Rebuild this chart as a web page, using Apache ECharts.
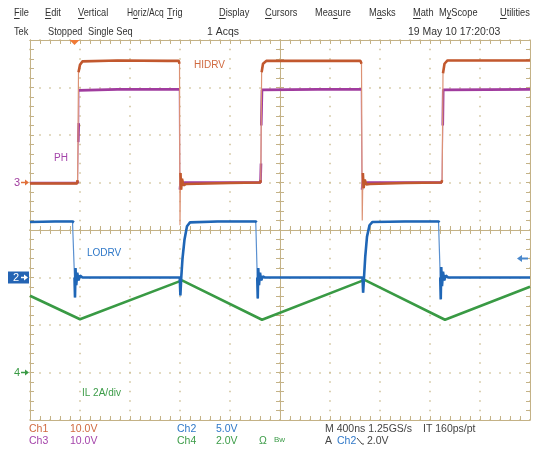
<!DOCTYPE html>
<html><head><meta charset="utf-8">
<script src="https://cdn.jsdelivr.net/npm/echarts@6/dist/echarts.min.js"></script>
<style>html,body{margin:0;padding:0;background:#fff}#main{width:533px;height:452px}</style>
</head><body><div id="main"></div>
<script>
// ---- acquisition settings ----
const timeMin = 0, timeMax = 4000, timePerDiv = 400;      // ns (M 400ns)
const halfDivX = 5, halfDivY = 4;
const ch1Scale = 10, ch1Ground = 1;    // V/div, ground offset in divisions
const ch2Scale = 5,  ch2Ground = -1;
const ch3Scale = 10, ch3Ground = 1;
const ch4Scale = 2,  ch4Ground = -3;
const triggerTime = 356, triggerLevel = 2.0;

// ---- traces: [time ns, value] ----
const hidrv = [[0,-0.2],[376,-0.2],[381,0.5],[388,23.2],[400,24.8],[420,25.5],[700,25.7],[1100,25.6],[1190,25.6],[1196,25.0],[1200,-9.0],[1204,2.0],[1209,-1.5],[1216,0.8],[1228,-0.6],[1250,-0.3],[1600,-0.1],[1842,0.0],[1846,0.5],[1853,23.2],[1864,25.0],[1890,25.6],[2300,25.6],[2644,25.6],[2652,25.0],[2658,-8.0],[2663,2.0],[2669,-1.2],[2678,0.6],[2690,-0.4],[2720,-0.3],[3000,-0.1],[3292,0.0],[3297,0.5],[3304,23.0],[3316,25.0],[3340,25.7],[4000,25.7]];
const ph = [[0,-0.1],[380,-0.1],[384,0.3],[386,8.5],[390,12.5],[392,19.4],[700,19.6],[1194,19.6],[1199,-1.5],[1206,0.4],[1218,-0.3],[1240,0.0],[1844,0.0],[1848,4.0],[1850,12.0],[1856,19.5],[2300,19.6],[2650,19.6],[2656,-1.5],[2664,0.4],[2676,-0.2],[2700,0.0],[3296,0.0],[3302,12.0],[3306,19.5],[4000,19.6]];
const lodrv = [[0,5.85],[200,5.9],[340,5.9],[352,5.8],[356,0.0],[360,-2.1],[364,1.0],[370,-0.8],[378,0.5],[388,-0.3],[400,0.2],[420,0.0],[1198,0.0],[1203,-1.9],[1210,0.0],[1220,2.0],[1236,4.0],[1256,5.4],[1280,5.8],[1500,5.9],[1806,5.9],[1813,5.8],[1818,0.0],[1822,-2.2],[1826,1.0],[1832,-0.8],[1840,0.5],[1850,-0.3],[1862,0.1],[1880,0.0],[2660,0.0],[2665,-1.6],[2672,0.0],[2682,2.2],[2696,4.3],[2716,5.5],[2740,5.85],[3000,5.9],[3268,5.9],[3276,5.8],[3282,0.0],[3286,-2.3],[3290,1.1],[3296,-0.9],[3304,0.6],[3314,-0.3],[3326,0.2],[3345,0.0],[4000,0.0]];
const il = [[0,3.23],[400,2.24],[1216,3.88],[1856,2.22],[2676,3.9],[3320,2.22],[4000,3.61]];

// ---- texts ----
const menuItems = ['File','Edit','Vertical','Horiz/Acq','Trig','Display','Cursors','Measure','Masks','Math','MyScope','Utilities'];
const menuKey   = [0,0,0,1,0,0,0,3,1,0,1,0];
const statusItems = ['Tek','Stopped','Single Seq','1 Acqs','19 May 10 17:20:03'];
const traceLabels = ['HIDRV','PH','LODRV','IL 2A/div'];

// ---- styling ----
const C1 = '#c2582e', C2 = '#1f66b6', C3 = '#a03c9e', C4 = '#399a44';
const E1 = '#dc9274', E2 = '#5a90d0', E3 = '#c07ec0';
const T1 = '#d06a40', T2 = '#2f78c8', T3 = '#a444aa', T4 = '#3c9c48';
const tan = '#c4b286', dotc = '#cdbf96';
const FONT = '"Liberation Sans", Arial, sans-serif';
const nsPerPx = timePerDiv / 50;

function range(scale, ground) { return [-(halfDivY + ground) * scale, (halfDivY - ground) * scale]; }

// break a trace at its steep edges so plateaus are drawn thick and edges thin
function plateaus(data, scale) {
  const out = [];
  for (let i = 0; i < data.length; i++) {
    out.push(data[i]);
    if (i < data.length - 1) {
      const dv = Math.abs(data[i+1][1] - data[i][1]) / scale;
      const dt = (data[i+1][0] - data[i][0]) / nsPerPx;
      if (dv / dt > 1.5) out.push([(data[i][0] + data[i+1][0]) / 2, '-']);
    }
  }
  return out;
}

function dataY(scale, ground) {
  const r = range(scale, ground);
  return {type:'value', min:r[0], max:r[1], show:false, axisLine:{onZero:false}};
}
function divX(pos, inside, onZero, split) {
  return {type:'value', min:-halfDivX, max:halfDivX, interval:1, position:pos,
    axisLabel:{show:false},
    axisLine:{show:true, onZero:onZero, onZeroAxisIndex:4, lineStyle:{color:tan, width:1}},
    axisTick:{show:true, inside:inside, length:4, lineStyle:{color:tan}},
    minorTick:{show:true, splitNumber:5, length:4, lineStyle:{color:tan}},
    splitLine:{show:split, lineStyle:{color:dotc, width:1.5, type:[1.5,8], dashOffset:0.75}}};
}
function divY(pos, inside, onZero, split) {
  return {type:'value', min:-halfDivY, max:halfDivY, interval:1, position:pos,
    axisLabel:{show:false},
    axisLine:{show:true, onZero:onZero, onZeroAxisIndex:1, lineStyle:{color:tan, width:1}},
    axisTick:{show:true, inside:inside, length:4, lineStyle:{color:tan}},
    minorTick:{show:true, splitNumber:5, length:4, lineStyle:{color:tan}},
    splitLine:{show:split, lineStyle:{color:dotc, width:1.5, type:[1.5,8.5], dashOffset:0.75}}};
}
function trace(name, data, yIdx, color, width, z) {
  return {name, type:'line', xAxisIndex:0, yAxisIndex:yIdx, data, showSymbol:false, symbol:'none',
    connectNulls:false, lineStyle:{color, width}, itemStyle:{color}, z, silent:true, animation:false};
}

const chart = echarts.init(document.getElementById('main'), null, {renderer:'canvas'});
chart.setOption({
  backgroundColor:'#fff',
  animation:false,
  grid:{left:30, top:40, width:500, height:380, show:false},
  xAxis:[
    {type:'value', min:timeMin, max:timeMax, interval:timePerDiv, show:false, axisLine:{onZero:false}},
    divX('bottom', true, false, true),
    divX('top', true, false, false),
    divX('bottom', false, true, false),
    divX('bottom', true, true, false)
  ],
  yAxis:[
    dataY(ch1Scale, ch1Ground),
    dataY(ch2Scale, ch2Ground),
    dataY(ch3Scale, ch3Ground),
    dataY(ch4Scale, ch4Ground),
    divY('left', true, false, true),
    divY('right', true, false, false),
    divY('left', false, true, false),
    divY('left', true, true, false)
  ],
  series:[
    trace('Ch4', il, 3, C4, 2.6, 3),
    trace('Ch3 edge', ph, 2, E3, 1.2, 4),
    trace('Ch3', plateaus(ph, ch3Scale), 2, C3, 2.6, 5),
    trace('Ch1 edge', hidrv, 0, E1, 1.2, 6),
    trace('Ch1', plateaus(hidrv, ch1Scale), 0, C1, 2.6, 7),
    trace('Ch2 edge', lodrv, 1, E2, 1.2, 8),
    trace('Ch2', plateaus(lodrv, ch2Scale), 1, C2, 2.6, 9)
  ]
});

// ---- annotations positioned from the axes ----
const gy1 = chart.convertToPixel({yAxisIndex:0}, 0);
const gy2 = chart.convertToPixel({yAxisIndex:1}, 0);
const gy4 = chart.convertToPixel({yAxisIndex:3}, 0);
const tx = chart.convertToPixel({xAxisIndex:0}, triggerTime);
const ty = chart.convertToPixel({yAxisIndex:1}, triggerLevel);
const gTop = chart.convertToPixel({yAxisIndex:4}, halfDivY);
const gRight = chart.convertToPixel({xAxisIndex:0}, timeMax);

const ctx = document.createElement('canvas').getContext('2d');
function tw(s, size) { ctx.font = size + 'px ' + FONT; return ctx.measureText(s).width; }

const G = [];
function txt(s, x, y, color, size, sx) {
  G.push({type:'text', x, y, z:100, silent:true, scaleX: sx || 1,
    style:{text:s, fill:color, font:size + 'px ' + FONT, textAlign:'left', textVerticalAlign:'middle'}});
}
function seg(x1, y1, x2, y2, color, w) {
  G.push({type:'line', z:100, silent:true, shape:{x1, y1, x2, y2}, style:{stroke:color, lineWidth:w || 1}});
}
function tri(pts, color) {
  G.push({type:'polygon', z:100, silent:true, shape:{points:pts}, style:{fill:color}});
}

// menu bar
const MS = 11, MX = 0.84;
const menuX = [14,45,78,127,167,219,265,315,369,413,439,500];
menuItems.forEach((m, i) => {
  const sx = m === 'Horiz/Acq' ? 0.77 : MX;
  txt(m, menuX[i], 13, '#333', MS, sx);
  const k = menuKey[i];
  const ux = menuX[i] + tw(m.slice(0, k), MS) * sx;
  const uw = tw(m[k], MS) * sx;
  seg(ux, 18.5, ux + uw, 18.5, '#333', 1);
});
// status row
const statusX = [14, 48, 88, 207, 408];
const statusSX = [0.84, 0.84, 0.84, 0.95, 0.95];
statusItems.forEach((s, i) => txt(s, statusX[i], 32, '#333', MS, statusSX[i]));

// trace labels
txt(traceLabels[0], 194, 65.5, T1, 10);
txt(traceLabels[1], 54, 158.5, T3, 10);
txt(traceLabels[2], 87, 253, T2, 10);
txt(traceLabels[3], 82, 393, T4, 10);

// channel ground markers
txt('3', 14, gy1, C3, 11);
seg(21, gy1, 26, gy1, '#e0703a', 1.5); tri([[25,gy1-3],[29,gy1],[25,gy1+3]], '#e0703a');
G.push({type:'rect', z:99, silent:true, shape:{x:8, y:gy2-6, width:21, height:12}, style:{fill:'#2464b4'}});
txt('2', 13, gy2, '#fff', 11);
seg(21, gy2, 25, gy2, '#fff', 1.5); tri([[24,gy2-3],[28,gy2],[24,gy2+3]], '#fff');
txt('4', 14, gy4, C4, 11);
seg(21, gy4, 26, gy4, C4, 1.5); tri([[25,gy4-3],[29,gy4],[25,gy4+3]], C4);

// trigger position (top) and level (right)
tri([[tx-5, gTop], [tx+5, gTop], [tx, gTop+5]], '#f07a36');
seg(gRight-10, ty, gRight-2, ty, '#4a88cc', 2); tri([[gRight-8, ty-3.5],[gRight-13, ty],[gRight-8, ty+3.5]], '#4a88cc');

// bottom readouts
txt('Ch1', 29, 429.5, T1, 10.5); txt('10.0V', 70, 429.5, T1, 10.5);
txt('Ch3', 29, 441, T3, 10.5);   txt('10.0V', 70, 441, T3, 10.5);
txt('Ch2', 177, 429.5, T2, 10.5); txt('5.0V', 216, 429.5, T2, 10.5);
txt('Ch4', 177, 441, T4, 10.5);   txt('2.0V', 216, 441, T4, 10.5);
txt('Ω', 259, 441, T4, 10.5);     txt('Bw', 274, 440, T4, 8);
txt('M 400ns 1.25GS/s', 325, 429.5, '#444', 10.5);
txt('IT 160ps/pt', 423, 429.5, '#444', 10.5);
txt('A', 325, 441, '#444', 10.5);
txt('Ch2', 337, 441, T2, 10.5);
seg(357, 438, 362, 444, '#444', 1); seg(362, 444, 364, 444, '#444', 1);
txt('2.0V', 367, 441, '#444', 10.5);

chart.setOption({graphic: G});
</script>
</body></html>
